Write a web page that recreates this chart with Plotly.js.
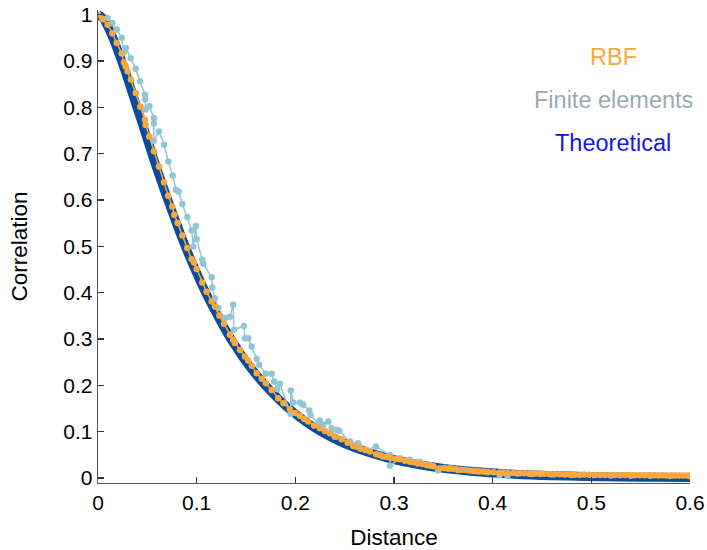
<!DOCTYPE html>
<html>
<head>
<meta charset="utf-8">
<script src="https://cdn.plot.ly/plotly-3.0.1.min.js"></script>
<style>html,body{margin:0;padding:0;background:#fff;}#chart{width:707px;height:550px;}</style>
</head>
<body>
<div id="chart"></div>
<script>
// Theoretical correlation
const theoX = [0, 0.005, 0.01, 0.0141, 0.02, 0.0282, 0.035, 0.0422, 0.05, 0.0563, 0.0635, 0.0704, 0.0775, 0.0845, 0.0915, 0.0986, 0.1055, 0.1126, 0.12, 0.1267, 0.1335, 0.1408, 0.15, 0.16, 0.176, 0.19, 0.211, 0.23, 0.246, 0.265, 0.282, 0.30, 0.317, 0.335, 0.352, 0.38, 0.422, 0.46, 0.493, 0.53, 0.563, 0.6];
const theoY = [1, 0.992, 0.974, 0.955, 0.923, 0.874, 0.829, 0.782, 0.731, 0.689, 0.644, 0.602, 0.561, 0.5215, 0.484, 0.449, 0.416, 0.385, 0.355, 0.329, 0.304, 0.280, 0.251, 0.2235, 0.185, 0.156, 0.1205, 0.095, 0.078, 0.062, 0.050, 0.0395, 0.032, 0.0252, 0.020, 0.0138, 0.0081, 0.0049, 0.0032, 0.0019, 0.0012, 0.0007];

// RBF estimate
const rbfX = [0, 0.0045, 0.0098, 0.0145, 0.019, 0.024, 0.0263, 0.028, 0.030, 0.0334, 0.0382, 0.0429, 0.0476, 0.0483, 0.052, 0.0567, 0.0618, 0.0669, 0.0712, 0.0753, 0.0773, 0.0807, 0.0855, 0.0905, 0.0949, 0.0973, 0.100, 0.1057, 0.110, 0.1152, 0.1185, 0.123, 0.1277, 0.1337, 0.137, 0.1388, 0.144, 0.149, 0.1523, 0.156, 0.1608, 0.166, 0.1702, 0.176, 0.1827, 0.188, 0.1945, 0.2, 0.2047, 0.209, 0.2131, 0.219, 0.2249, 0.230, 0.235, 0.241, 0.2469, 0.253, 0.2587, 0.262, 0.266, 0.271, 0.2756, 0.282, 0.286, 0.289, 0.293, 0.297, 0.302, 0.306, 0.311, 0.316, 0.320, 0.324, 0.329, 0.333, 0.337, 0.34, 0.3465, 0.351, 0.355, 0.359, 0.3634, 0.368, 0.372, 0.376, 0.38, 0.384, 0.387, 0.391, 0.395, 0.401, 0.4073, 0.411, 0.415, 0.421, 0.4276, 0.432, 0.437, 0.443, 0.448, 0.452, 0.457, 0.463, 0.468, 0.473, 0.478, 0.483, 0.4883, 0.493, 0.498, 0.504, 0.509, 0.514, 0.519, 0.524, 0.529, 0.534, 0.539, 0.544, 0.549, 0.554, 0.559, 0.564, 0.568, 0.572, 0.576, 0.581, 0.585, 0.589, 0.593, 0.597, 0.6];
const rbfY = [1, 0.99, 0.978, 0.96, 0.939, 0.916, 0.897, 0.888, 0.878, 0.860, 0.831, 0.801, 0.773, 0.762, 0.737, 0.705, 0.672, 0.638, 0.609, 0.586, 0.568, 0.55, 0.523, 0.496, 0.472, 0.465, 0.451, 0.422, 0.402, 0.381, 0.370, 0.3505, 0.333, 0.309, 0.298, 0.291, 0.276, 0.262, 0.2534, 0.242, 0.226, 0.214, 0.2045, 0.190, 0.172, 0.161, 0.148, 0.140, 0.134, 0.127, 0.1216, 0.113, 0.107, 0.101, 0.0965, 0.089, 0.0835, 0.076, 0.069, 0.067, 0.063, 0.060, 0.057, 0.051, 0.049, 0.046, 0.045, 0.043, 0.041, 0.040, 0.037, 0.035, 0.034, 0.031, 0.030, 0.028, 0.026, 0.025, 0.021, 0.0215, 0.020, 0.0195, 0.0188, 0.0178, 0.017, 0.0162, 0.015, 0.0145, 0.0136, 0.0138, 0.013, 0.012, 0.0115, 0.0118, 0.011, 0.0105, 0.010, 0.0098, 0.0092, 0.0094, 0.0086, 0.0088, 0.0083, 0.0078, 0.008, 0.0075, 0.0072, 0.007, 0.0065, 0.0071, 0.0068, 0.0064, 0.0065, 0.0062, 0.006, 0.0063, 0.0058, 0.006, 0.0061, 0.0056, 0.0058, 0.0059, 0.0055, 0.0057, 0.0052, 0.0055, 0.005, 0.0054, 0.0053, 0.0051, 0.005, 0.0052, 0.005];

// Finite elements estimate
const feX = [0, 0.0098, 0.0145, 0.019, 0.024, 0.0262, 0.0284, 0.0331, 0.0382, 0.0426, 0.0476, 0.0478, 0.048, 0.052, 0.0567, 0.0567, 0.0565, 0.0618, 0.0669, 0.0713, 0.0757, 0.079, 0.0817, 0.0855, 0.0905, 0.0949, 0.0966, 0.0993, 0.100, 0.1057, 0.1067, 0.1152, 0.1158, 0.1185, 0.122, 0.1287, 0.1337, 0.137, 0.1378, 0.1479, 0.1489, 0.1523, 0.1557, 0.1608, 0.1634, 0.170, 0.176, 0.1786, 0.1817, 0.1844, 0.1952, 0.1955, 0.1979, 0.2047, 0.2074, 0.208, 0.2141, 0.2154, 0.2232, 0.2249, 0.2283, 0.2334, 0.2368, 0.240, 0.2418, 0.2445, 0.2553, 0.2637, 0.2722, 0.2817, 0.2958, 0.2958, 0.306, 0.316, 0.326, 0.336, 0.3448, 0.3566, 0.365, 0.38, 0.395, 0.407, 0.415, 0.425, 0.44, 0.46, 0.48, 0.5, 0.52, 0.54, 0.56, 0.58, 0.6];
const feY = [1, 0.993, 0.982, 0.968, 0.950, 0.918, 0.928, 0.906, 0.883, 0.856, 0.827, 0.817, 0.795, 0.802, 0.777, 0.765, 0.728, 0.748, 0.719, 0.683, 0.653, 0.622, 0.618, 0.591, 0.563, 0.534, 0.4996, 0.544, 0.5155, 0.471, 0.462, 0.433, 0.411, 0.388, 0.367, 0.345, 0.348, 0.3737, 0.3197, 0.328, 0.3017, 0.3017, 0.2836, 0.257, 0.244, 0.2246, 0.2246, 0.208, 0.1916, 0.203, 0.138, 0.1886, 0.1627, 0.1627, 0.159, 0.1577, 0.1454, 0.136, 0.118, 0.1238, 0.1145, 0.1216, 0.107, 0.089, 0.1037, 0.102, 0.0784, 0.0749, 0.0605, 0.0677, 0.0497, 0.026, 0.0425, 0.039, 0.035, 0.028, 0.0158, 0.021, 0.0173, 0.0148, 0.012, 0.006, 0.005, 0.0095, 0.0085, 0.0075, 0.0062, 0.0055, 0.005, 0.0048, 0.0045, 0.0042, 0.004];

const legendLabels = ['RBF', 'Finite elements', 'Theoretical'];
const legendColors = ['#f9a83d', '#98aab2', '#1717e8'];

const FONT = 'Liberation Sans, Arial, Helvetica, sans-serif';

const traces = [
  {x: theoX, y: theoY, mode: 'lines', line: {color: '#0b4c9e', width: 9, shape: 'spline'}, hoverinfo: 'skip'},
  {x: feX, y: feY, mode: 'lines+markers', line: {color: '#91c6d7', width: 1.5}, marker: {color: '#91c6d7', size: 6.5}},
  {x: rbfX, y: rbfY, mode: 'lines+markers', line: {color: '#f9a83d', width: 1.5}, marker: {color: '#f9a83d', size: 6.5}}
];

const annotations = legendLabels.map((t, i) => ({
  text: t, xref: 'paper', yref: 'paper', x: 0.87, y: [0.9006, 0.8097, 0.7188][i],
  xanchor: 'center', yanchor: 'middle', showarrow: false,
  font: {family: FONT, size: 23.5, color: legendColors[i]}
}));

const layout = {
  width: 707, height: 550,
  margin: {l: 98, r: 17, t: 10, b: 67},
  paper_bgcolor: '#fff', plot_bgcolor: '#fff',
  showlegend: false,
  font: {family: FONT, color: '#000'},
  xaxis: {
    range: [0, 0.6], dtick: 0.1, tick0: 0,
    ticks: 'inside', ticklen: 6, tickwidth: 1.2, tickcolor: '#333',
    showline: true, linecolor: '#555', linewidth: 1.3,
    showgrid: false, zeroline: false,
    tickfont: {family: FONT, size: 21, color: '#000'},
    title: {text: 'Distance', font: {family: FONT, size: 22.5, color: '#000'}, standoff: 29}
  },
  yaxis: {
    range: [-0.011, 1.01], dtick: 0.1, tick0: 0,
    ticks: 'inside', ticklen: 6, tickwidth: 1.2, tickcolor: '#333',
    showline: true, linecolor: '#555', linewidth: 1.3,
    showgrid: false, zeroline: false,
    tickfont: {family: FONT, size: 21, color: '#000'},
    title: {text: 'Correlation', font: {family: FONT, size: 22.5, color: '#000'}, standoff: 29}
  },
  annotations: annotations
};

Plotly.newPlot('chart', traces, layout, {staticPlot: true, displayModeBar: false});
</script>
</body>
</html>
